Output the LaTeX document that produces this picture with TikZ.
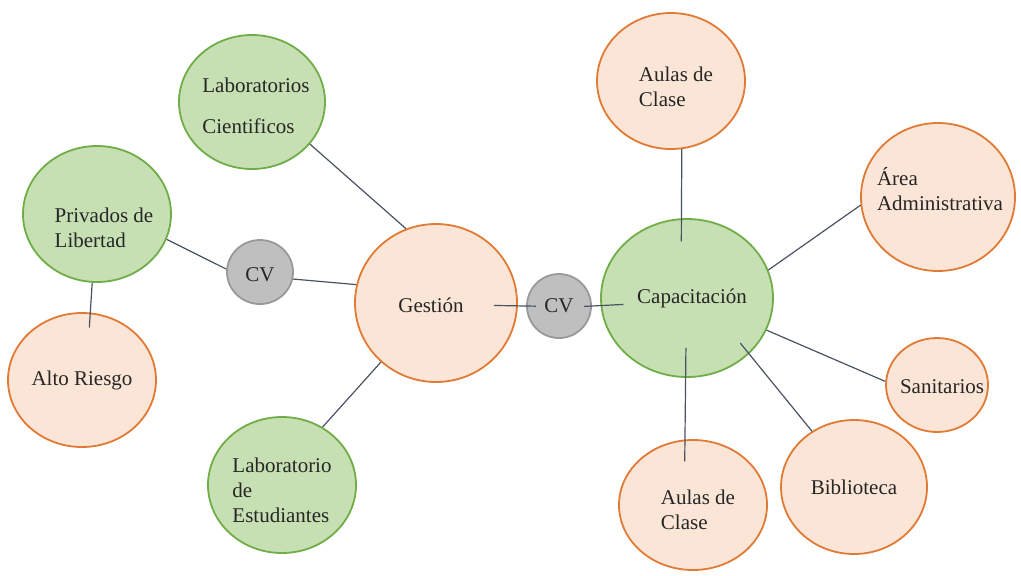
\documentclass[tikz,border=0pt]{standalone}
\usepackage{fontspec}
\setmainfont{Liberation Serif}
\usepackage{xcolor}
\usetikzlibrary{shapes.geometric}

\definecolor{verdefondo}{HTML}{C6E0B4}
\definecolor{verdeborde}{HTML}{70AD47}
\definecolor{naranjafondo}{HTML}{FBE5D6}
\definecolor{naranjaborde}{HTML}{E07A35}
\definecolor{grisfondo}{HTML}{BFBFBF}
\definecolor{grisborde}{HTML}{999999}
\definecolor{linea}{HTML}{4A5262}

\begin{document}
\begin{tikzpicture}[
    x=0.5pt, y=-0.5pt,
    bub/.style={draw, ellipse, inner sep=0pt, line width=0.9pt},
    verde/.style={bub, fill=verdefondo, draw=verdeborde},
    naranja/.style={bub, fill=naranjafondo, draw=naranjaborde},
    gris/.style={bub, fill=grisfondo, draw=grisborde},
    txt/.style={align=left, inner sep=0pt, text=black!85, font=\fontsize{10.5}{12.5}\selectfont},
    line/.style={draw=linea, line width=0.6pt}
]
\useasboundingbox (0,0) rectangle (1021,575);

% lado de Gestion
\node (labc) [verde, minimum width=73pt, minimum height=67pt,
    label={[txt, xshift=2pt, yshift=-2pt]center:{Laboratorios\\[8pt]Cientificos}}] at (252,102) {};
\node (priv) [verde, minimum width=74pt, minimum height=68pt,
    label={[txt, xshift=3.5pt, yshift=-6.75pt]center:{Privados de\\Libertad}}] at (97,214) {};
\node (alto) [naranja, minimum width=74pt, minimum height=67pt,
    label={[txt]center:{Alto Riesgo}}] at (82,380) {};
\node (cvl) [gris, minimum width=33pt, minimum height=32pt,
    label={[txt, yshift=-1.5pt]center:{CV}}] at (260,272) {};
\node (ges) [naranja, minimum width=81pt, minimum height=79pt,
    label={[txt, xshift=-2.5pt, yshift=-1pt]center:{Gestión}}] at (436,303) {};
\node (labe) [verde, minimum width=74pt, minimum height=68pt,
    label={[txt, yshift=-2.5pt]center:{Laboratorio\\de\\Estudiantes}}] at (282,485) {};

% lado de Capacitacion
\node (cvr) [gris, minimum width=32pt, minimum height=32pt,
    label={[txt]center:{CV}}] at (559,306) {};
\node (cap) [verde, minimum width=86pt, minimum height=79pt,
    label={[txt, xshift=2.5pt]center:{Capacitación}}] at (687,298) {};
\node (aulat) [naranja, minimum width=74pt, minimum height=68pt,
    label={[txt, xshift=2.5pt, yshift=-3pt]center:{Aulas de\\Clase}}] at (671,81) {};
\node (area) [naranja, minimum width=77pt, minimum height=74pt,
    label={[txt, xshift=1pt, yshift=4pt]center:{Área\\Administrativa}}] at (938,197) {};
\node (sani) [naranja, minimum width=51pt, minimum height=47pt,
    label={[txt, xshift=2.5pt, yshift=-1pt]center:{Sanitarios}}] at (937,385) {};
\node (bib) [naranja, minimum width=73pt, minimum height=67pt,
    label={[txt]center:{Biblioteca}}] at (854,487) {};
\node (aulb) [naranja, minimum width=74pt, minimum height=65pt,
    label={[txt, xshift=2.5pt, yshift=-2.5pt]center:{Aulas de\\Clase}}] at (693,505) {};

\draw[line] (labc.-36) -- (ges.112);
\draw[line] (priv.-20) -- (cvl.175);
\draw[line] (cvl.-12) -- (ges.167);
\draw[line, shorten >=-7.5pt] (priv.-94) -- (alto.83);
\draw[line] (ges.-133) -- (labe.55);
\draw[line, shorten <=-12pt, shorten >=-5pt] (ges.-2) -- (cvr.west);
\draw[line, shorten <=-4pt, shorten >=-11.5pt] (cvr.east) -- (cap.185);
\draw[line, shorten >=-11.5pt] (aulat.-81) -- (cap.94);
\draw[line] (area.186) -- (cap.19);
\draw[line] (cap.-22) -- (sani.176);
\draw[line, shorten <=-7pt] (cap.-42) -- (bib.127);
\draw[line, shorten <=-15pt, shorten >=-11pt] (cap.-91.5) -- (aulb.97);
\end{tikzpicture}
\end{document}
